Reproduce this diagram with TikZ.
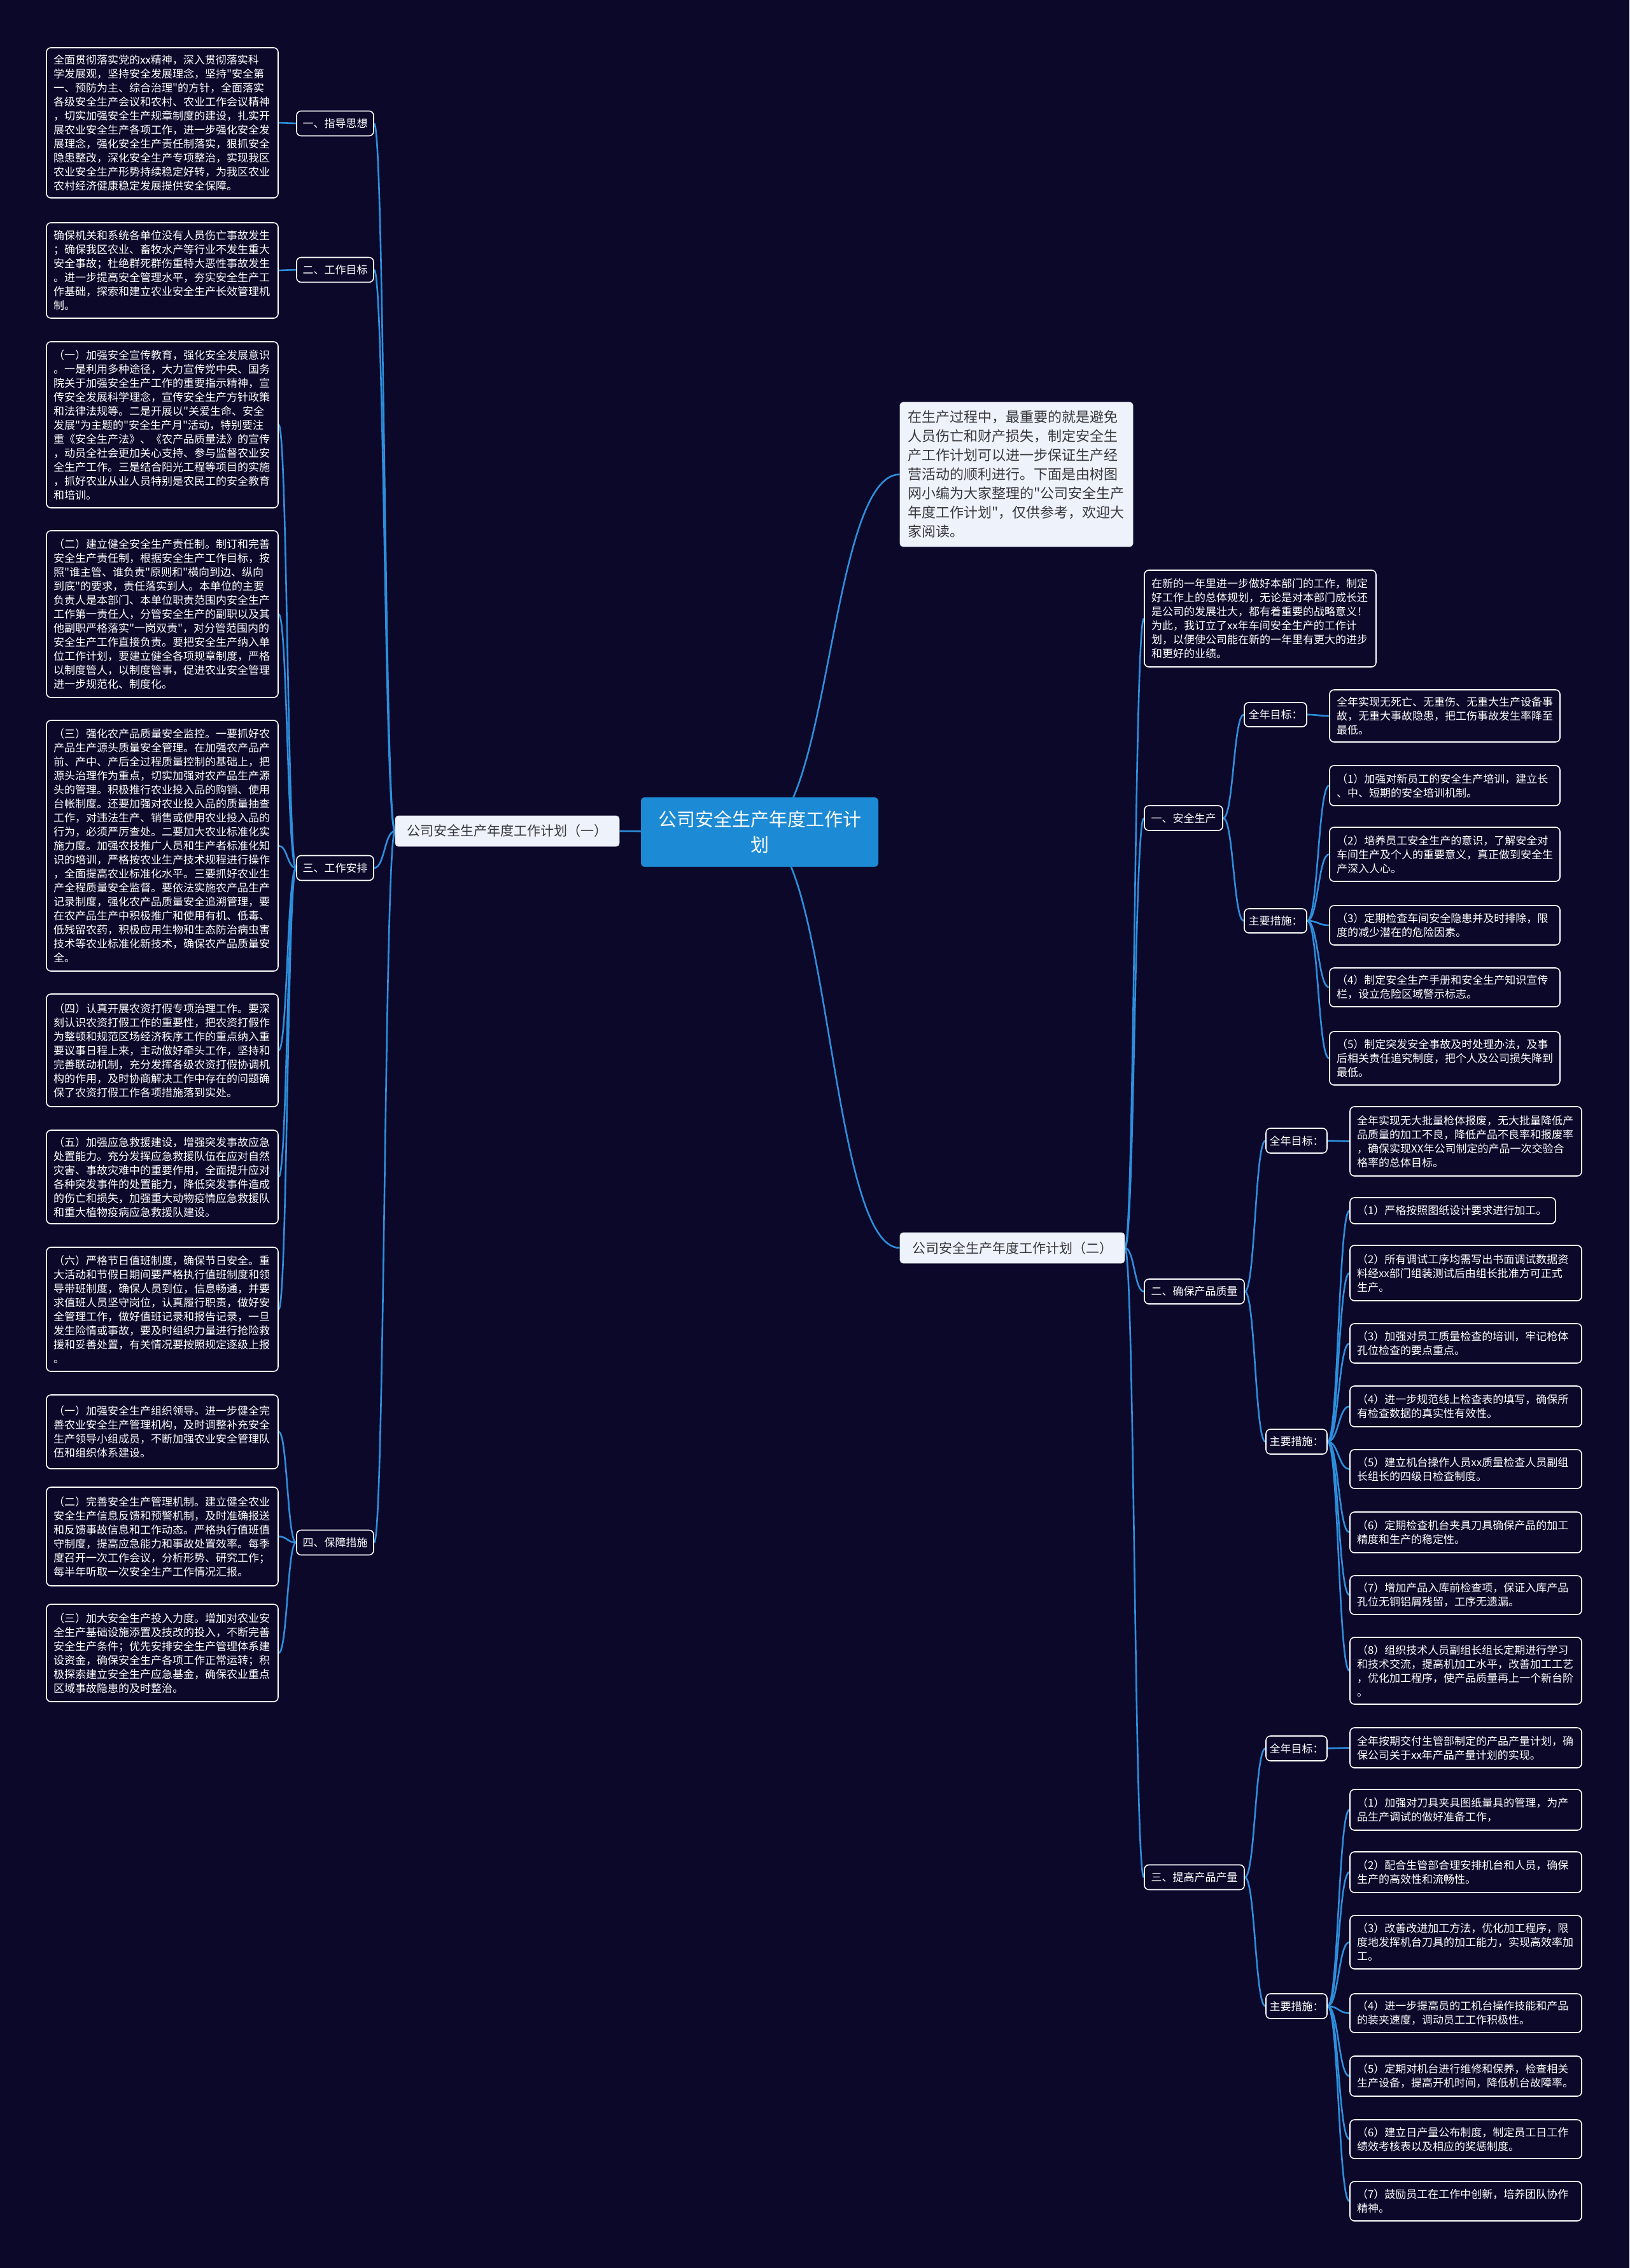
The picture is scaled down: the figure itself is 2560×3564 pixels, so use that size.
\documentclass[tikz,border=0pt]{standalone}
\usepackage{fontspec}
\setmainfont{Noto Sans CJK SC}[Ligatures=TeXOff]
\usetikzlibrary{calc}
\definecolor{bgc}{RGB}{11,8,42}
\definecolor{linec}{RGB}{45,143,220}
\definecolor{rootc}{RGB}{28,138,212}
\definecolor{lightc}{RGB}{238,242,250}
\definecolor{darktxt}{RGB}{55,55,60}
\pgfdeclarelayer{bglayer}
\pgfdeclarelayer{linelayer}
\pgfsetlayers{bglayer,linelayer,main}
\tikzset{
  conn/.style={draw=linec, line width=2.6pt},
  dbox/.style={draw=white, line width=1.6pt, rounded corners=7pt, fill=bgc, text=white,
    font=\fontsize{17}{22}\selectfont, align=left, inner sep=0pt},
  lbox/.style={draw=white, line width=1.6pt, rounded corners=7pt, fill=bgc, text=white,
    font=\fontsize{17}{22}\selectfont, align=center, inner sep=0pt},
  lightbox/.style={draw=lightc!80!gray, line width=0.8pt, rounded corners=5pt, fill=lightc, text=darktxt, inner sep=0pt},
  rootbox/.style={fill=rootc, rounded corners=6pt, text=white, align=center,
    font=\fontsize{29}{40}\selectfont, inner sep=0pt}
}
\newcommand\tbox[6]{%
  \pgfmathsetmacro\tbw{#4-22}%
  \node[dbox, minimum width=#4pt, minimum height=#5pt, text width=\tbw pt] (#1) at (#2,#3) {#6};}
\newcommand\lab[6]{%
  \node[lbox, minimum width=#4pt, minimum height=#5pt] (#1) at (#2,#3) {#6};}
\newcommand\lnk[2]{%
  \path (#1) -- coordinate[pos=0.5] (tmpm) (#2);%
  \begin{pgfonlayer}{linelayer}%
  \draw[conn] (#1) .. controls (tmpm |- #1) and (tmpm |- #2) .. (#2);%
  \end{pgfonlayer}}
\begin{document}
\begin{tikzpicture}[x=1pt,y=-1pt]
\begin{pgfonlayer}{bglayer}
\fill[bgc] (0,0) rectangle (2560,3564);
\end{pgfonlayer}
\useasboundingbox (0,0) rectangle (2560,3564);

% root and first level
\node[rootbox, minimum width=373pt, minimum height=109pt] (root) at (1193.5,1307.5) {公司安全生产年度工作计\\划};
\node[lightbox, minimum width=352pt, minimum height=48pt, font=\fontsize{21}{26}\selectfont] (L1) at (797,1306) {公司安全生产年度工作计划（一）};
\node[lightbox, minimum width=353pt, minimum height=48pt, font=\fontsize{21}{26}\selectfont] (R1) at (1590.5,1961) {公司安全生产年度工作计划（二）};
\node[lightbox, minimum width=366pt, minimum height=227pt, text width=342pt, align=left, font=\fontsize{22}{30}\selectfont] (intro) at (1597,745.5) {在生产过程中，最重要的就是避免\\人员伤亡和财产损失，制定安全生\\产工作计划可以进一步保证生产经\\营活动的顺利进行。下面是由树图\\网小编为大家整理的"公司安全生产\\年度工作计划"，仅供参考，欢迎大\\家阅读。};

% left labels
\lab{la1}{526.5}{194}{121}{39}{一、指导思想}
\lab{la2}{526.5}{424}{121}{39}{二、工作目标}
\lab{la3}{526.5}{1364}{121}{39}{三、工作安排}
\lab{la4}{526.5}{2424}{121}{39}{四、保障措施}

% left boxes
\tbox{b1}{255}{193}{364}{236}{全面贯彻落实党的xx精神，深入贯彻落实科\\学发展观，坚持安全发展理念，坚持"安全第\\一、预防为主、综合治理"的方针，全面落实\\各级安全生产会议和农村、农业工作会议精神\\，切实加强安全生产规章制度的建设，扎实开\\展农业安全生产各项工作，进一步强化安全发\\展理念，强化安全生产责任制落实，狠抓安全\\隐患整改，深化安全生产专项整治，实现我区\\农业安全生产形势持续稳定好转，为我区农业\\农村经济健康稳定发展提供安全保障。}
\tbox{b2}{255}{425}{364}{150}{确保机关和系统各单位没有人员伤亡事故发生\\；确保我区农业、畜牧水产等行业不发生重大\\安全事故；杜绝群死群伤重特大恶性事故发生\\。进一步提高安全管理水平，夯实安全生产工\\作基础，探索和建立农业安全生产长效管理机\\制。}
\tbox{b3}{255}{667.5}{364}{261}{（一）加强安全宣传教育，强化安全发展意识\\。一是利用多种途径，大力宣传党中央、国务\\院关于加强安全生产工作的重要指示精神，宣\\传安全发展科学理念，宣传安全生产方针政策\\和法律法规等。二是开展以"关爱生命、安全\\发展"为主题的"安全生产月"活动，特别要注\\重《安全生产法》、《农产品质量法》的宣传\\，动员全社会更加关心支持、参与监督农业安\\全生产工作。三是结合阳光工程等项目的实施\\，抓好农业从业人员特别是农民工的安全教育\\和培训。}
\tbox{b4}{255}{965}{364}{262}{（二）建立健全安全生产责任制。制订和完善\\安全生产责任制，根据安全生产工作目标，按\\照"谁主管、谁负责"原则和"横向到边、纵向\\到底"的要求，责任落实到人。本单位的主要\\负责人是本部门、本单位职责范围内安全生产\\工作第一责任人，分管安全生产的副职以及其\\他副职严格落实"一岗双责"，对分管范围内的\\安全生产工作直接负责。要把安全生产纳入单\\位工作计划，要建立健全各项规章制度，严格\\以制度管人，以制度管事，促进农业安全管理\\进一步规范化、制度化。}
\tbox{b5}{255}{1329}{364}{394}{（三）强化农产品质量安全监控。一要抓好农\\产品生产源头质量安全管理。在加强农产品产\\前、产中、产后全过程质量控制的基础上，把\\源头治理作为重点，切实加强对农产品生产源\\头的管理。积极推行农业投入品的购销、使用\\台帐制度。还要加强对农业投入品的质量抽查\\工作，对违法生产、销售或使用农业投入品的\\行为，必须严厉查处。二要加大农业标准化实\\施力度。加强农技推广人员和生产者标准化知\\识的培训，严格按农业生产技术规程进行操作\\，全面提高农业标准化水平。三要抓好农业生\\产全程质量安全监督。要依法实施农产品生产\\记录制度，强化农产品质量安全追溯管理，要\\在农产品生产中积极推广和使用有机、低毒、\\低残留农药，积极应用生物和生态防治病虫害\\技术等农业标准化新技术，确保农产品质量安\\全。}
\tbox{b6}{255}{1650.5}{364}{177}{（四）认真开展农资打假专项治理工作。要深\\刻认识农资打假工作的重要性，把农资打假作\\为整顿和规范区场经济秩序工作的重点纳入重\\要议事日程上来，主动做好牵头工作，坚持和\\完善联动机制，充分发挥各级农资打假协调机\\构的作用，及时协商解决工作中存在的问题确\\保了农资打假工作各项措施落到实处。}
\tbox{b7}{255}{1849.5}{364}{147}{（五）加强应急救援建设，增强突发事故应急\\处置能力。充分发挥应急救援队伍在应对自然\\灾害、事故灾难中的重要作用，全面提升应对\\各种突发事件的处置能力，降低突发事件造成\\的伤亡和损失，加强重大动物疫情应急救援队\\和重大植物疫病应急救援队建设。}
\tbox{b8}{255}{2057.5}{364}{195}{（六）严格节日值班制度，确保节日安全。重\\大活动和节假日期间要严格执行值班制度和领\\导带班制度，确保人员到位，信息畅通，并要\\求值班人员坚守岗位，认真履行职责，做好安\\全管理工作，做好值班记录和报告记录，一旦\\发生险情或事故，要及时组织力量进行抢险救\\援和妥善处置，有关情况要按照规定逐级上报\\。}
\tbox{b9}{255}{2250}{364}{116}{（一）加强安全生产组织领导。进一步健全完\\善农业安全生产管理机构，及时调整补充安全\\生产领导小组成员，不断加强农业安全管理队\\伍和组织体系建设。}
\tbox{b10}{255}{2414.5}{364}{155}{（二）完善安全生产管理机制。建立健全农业\\安全生产信息反馈和预警机制，及时准确报送\\和反馈事故信息和工作动态。严格执行值班值\\守制度，提高应急能力和事故处置效率。每季\\度召开一次工作会议，分析形势、研究工作；\\每半年听取一次安全生产工作情况汇报。}
\tbox{b11}{255}{2597.5}{364}{153}{（三）加大安全生产投入力度。增加对农业安\\全生产基础设施添置及技改的投入，不断完善\\安全生产条件；优先安排安全生产管理体系建\\设资金，确保安全生产各项工作正常运转；积\\极探索建立安全生产应急基金，确保农业重点\\区域事故隐患的及时整治。}

% right side
\tbox{rA}{1980}{972}{364}{152}{在新的一年里进一步做好本部门的工作，制定\\好工作上的总体规划，无论是对本部门成长还\\是公司的发展壮大，都有着重要的战略意义！\\为此，我订立了xx年车间安全生产的工作计\\划，以便使公司能在新的一年里有更大的进步\\和更好的业绩。}
\lab{s1}{1859.5}{1285.5}{123}{39}{一、安全生产}
\lab{s2}{1876.5}{2029.5}{157}{39}{二、确保产品质量}
\lab{s3}{1876.5}{2950}{157}{39}{三、提高产品产量}

\lab{s1g}{2004}{1123}{98}{38}{全年目标：}
\lab{s1m}{2004}{1447}{98}{38}{主要措施：}
\tbox{s1gt}{2270}{1125}{362}{82}{全年实现无死亡、无重伤、无重大生产设备事\\故，无重大事故隐患，把工伤事故发生率降至\\最低。}
\tbox{s1m1}{2270}{1234.5}{362}{63}{（1）加强对新员工的安全生产培训，建立长\\、中、短期的安全培训机制。}
\tbox{s1m2}{2270}{1342.5}{362}{85}{（2）培养员工安全生产的意识，了解安全对\\车间生产及个人的重要意义，真正做到安全生\\产深入人心。}
\tbox{s1m3}{2270}{1454}{362}{62}{（3）定期检查车间安全隐患并及时排除，限\\度的减少潜在的危险因素。}
\tbox{s1m4}{2270}{1551.5}{362}{61}{（4）制定安全生产手册和安全生产知识宣传\\栏，设立危险区域警示标志。}
\tbox{s1m5}{2270}{1663}{362}{84}{（5）制定突发安全事故及时处理办法，及事\\后相关责任追究制度，把个人及公司损失降到\\最低。}

\lab{s2g}{2037}{1792.5}{96}{39}{全年目标：}
\lab{s2m}{2037}{2265.5}{96}{39}{主要措施：}
\tbox{s2gt}{2303}{1793.5}{364}{109}{全年实现无大批量枪体报废，无大批量降低产\\品质量的加工不良，降低产品不良率和报废率\\，确保实现XX年公司制定的产品一次交验合\\格率的总体目标。}
\tbox{s2m1}{2282.5}{1902.5}{323}{41}{（1）严格按照图纸设计要求进行加工。}
\tbox{s2m2}{2303}{2000.5}{364}{87}{（2）所有调试工序均需写出书面调试数据资\\料经xx部门组装测试后由组长批准方可正式\\生产。}
\tbox{s2m3}{2303}{2111}{364}{62}{（3）加强对员工质量检查的培训，牢记枪体\\孔位检查的要点重点。}
\tbox{s2m4}{2303}{2210}{364}{64}{（4）进一步规范线上检查表的填写，确保所\\有检查数据的真实性有效性。}
\tbox{s2m5}{2303}{2308.5}{364}{61}{（5）建立机台操作人员xx质量检查人员副组\\长组长的四级日检查制度。}
\tbox{s2m6}{2303}{2408}{364}{64}{（6）定期检查机台夹具刀具确保产品的加工\\精度和生产的稳定性。}
\tbox{s2m7}{2303}{2506.5}{364}{61}{（7）增加产品入库前检查项，保证入库产品\\孔位无铜铝屑残留，工序无遗漏。}
\tbox{s2m8}{2303}{2625.5}{364}{105}{（8）组织技术人员副组长组长定期进行学习\\和技术交流，提高机加工水平，改善加工工艺\\，优化加工程序，使产品质量再上一个新台阶\\。}

\lab{s3g}{2037}{2747.5}{96}{39}{全年目标：}
\lab{s3m}{2037}{3152.5}{96}{39}{主要措施：}
\tbox{s3gt}{2303}{2746.5}{364}{63}{全年按期交付生管部制定的产品产量计划，确\\保公司关于xx年产品产量计划的实现。}
\tbox{s3m1}{2303}{2844}{364}{64}{（1）加强对刀具夹具图纸量具的管理，为产\\品生产调试的做好准备工作，}
\tbox{s3m2}{2303}{2942}{364}{64}{（2）配合生管部合理安排机台和人员，确保\\生产的高效性和流畅性。}
\tbox{s3m3}{2303}{3052}{364}{84}{（3）改善改进加工方法，优化加工程序，限\\度地发挥机台刀具的加工能力，实现高效率加\\工。}
\tbox{s3m4}{2303}{3163.5}{364}{61}{（4）进一步提高员的工机台操作技能和产品\\的装夹速度，调动员工工作积极性。}
\tbox{s3m5}{2303}{3262.5}{364}{63}{（5）定期对机台进行维修和保养，检查相关\\生产设备，提高开机时间，降低机台故障率。}
\tbox{s3m6}{2303}{3361.5}{364}{61}{（6）建立日产量公布制度，制定员工日工作\\绩效考核表以及相应的奖惩制度。}
\tbox{s3m7}{2303}{3459}{364}{62}{（7）鼓励员工在工作中创新，培养团队协作\\精神。}

% connectors
\lnk{root.center}{L1.east}
\lnk{root.center}{intro.west}
\lnk{root.center}{R1.west}
\lnk{L1.west}{la1.east}
\lnk{L1.west}{la2.east}
\lnk{L1.west}{la3.east}
\lnk{L1.west}{la4.east}
\lnk{la1.west}{b1.east}
\lnk{la2.west}{b2.east}
\foreach \b in {b3,b4,b5,b6,b7,b8}{\lnk{la3.west}{\b.east}}
\foreach \b in {b9,b10,b11}{\lnk{la4.west}{\b.east}}
\lnk{R1.east}{rA.west}
\lnk{R1.east}{s1.west}
\lnk{R1.east}{s2.west}
\lnk{R1.east}{s3.west}
\lnk{s1.east}{s1g.west}
\lnk{s1.east}{s1m.west}
\lnk{s1g.east}{s1gt.west}
\foreach \b in {s1m1,s1m2,s1m3,s1m4,s1m5}{\lnk{s1m.east}{\b.west}}
\lnk{s2.east}{s2g.west}
\lnk{s2.east}{s2m.west}
\lnk{s2g.east}{s2gt.west}
\foreach \b in {s2m1,s2m2,s2m3,s2m4,s2m5,s2m6,s2m7,s2m8}{\lnk{s2m.east}{\b.west}}
\lnk{s3.east}{s3g.west}
\lnk{s3.east}{s3m.west}
\lnk{s3g.east}{s3gt.west}
\foreach \b in {s3m1,s3m2,s3m3,s3m4,s3m5,s3m6,s3m7}{\lnk{s3m.east}{\b.west}}
\end{tikzpicture}
\end{document}
